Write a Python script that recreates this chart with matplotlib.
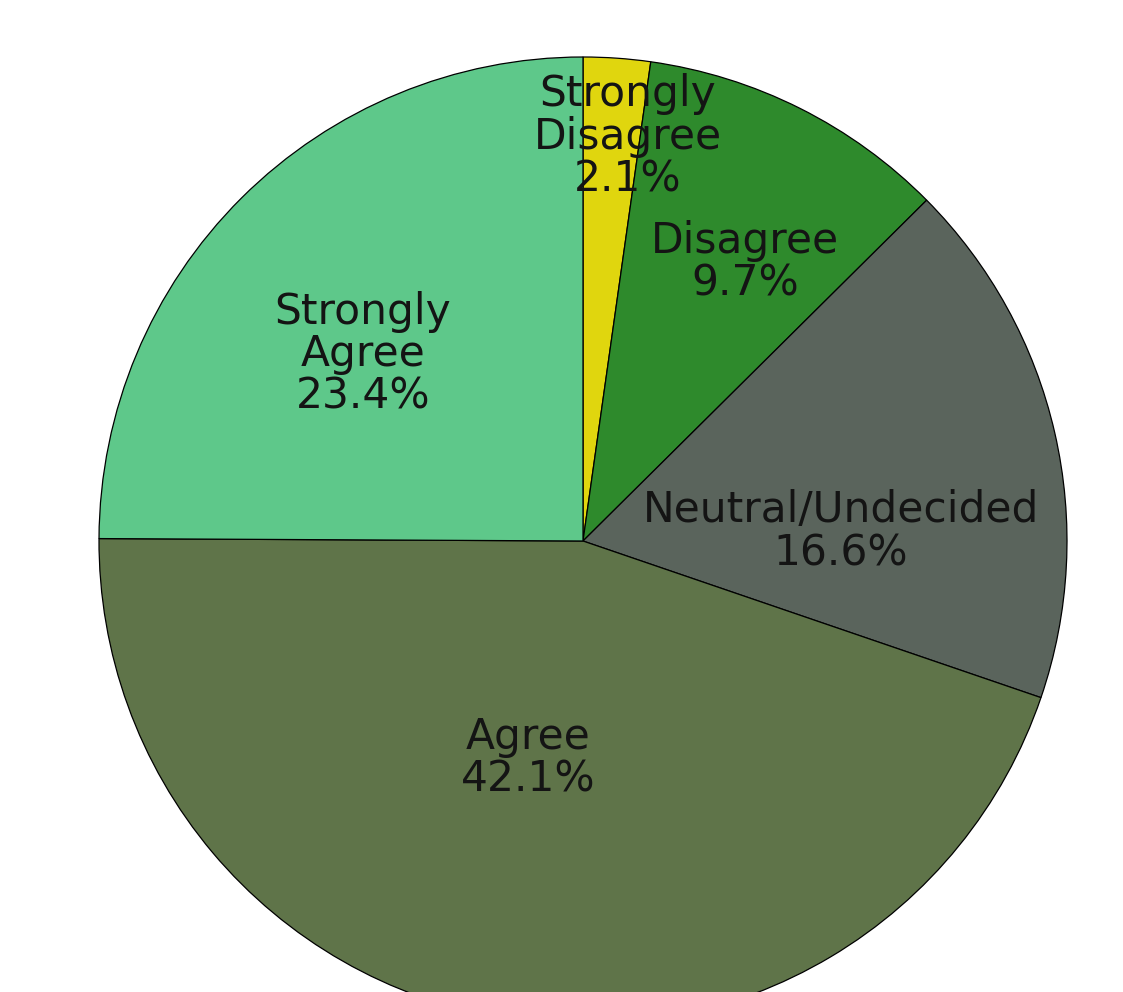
import matplotlib
matplotlib.use("Agg")
import matplotlib.pyplot as plt
import numpy as np

categories = ["Strongly\nDisagree", "Disagree", "Neutral/Undecided", "Agree", "Strongly\nAgree"]
percents = [2.1, 9.7, 16.6, 42.1, 23.4]
colors = ["#e0d60e", "#2e8a2c", "#5a645c", "#5f7449", "#5ec88a"]
# label positions in units of the pie radius
label_pos = [(0.093, 0.835), (0.335, 0.576), (0.533, 0.019), (-0.114, -0.448), (-0.455, 0.386)]

W, H = 1123, 992
cx, cy, R = 583, 541, 484
fig = plt.figure(figsize=(W / 100, H / 100), dpi=100)
ax = fig.add_axes([0, 0, 1, 1])
ax.pie(percents, colors=colors, startangle=90, counterclock=False, radius=1.0,
       wedgeprops=dict(edgecolor="black", linewidth=0.9))
ax.set_aspect("auto")
ax.set_xlim(-cx / R, (W - cx) / R)
ax.set_ylim((cy - H) / R, cy / R)
ax.axis("off")

for cat, p, (x, y) in zip(categories, percents, label_pos):
    ax.text(x, y, f"{cat}\n{p}%", ha="center", va="center", fontsize=30.5,
            family="DejaVu Sans", color="#141414", linespacing=1.02)

fig.savefig("out.png", dpi=100)
